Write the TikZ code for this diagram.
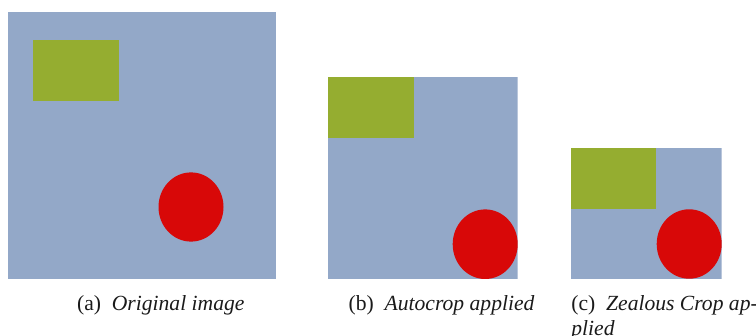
\documentclass[tikz,border=0pt]{standalone}
\usepackage{fontspec}
\setmainfont{Liberation Serif}
\usepackage{tikz}
\usetikzlibrary{positioning}
\definecolor{canvas}{HTML}{93A8C8}
\definecolor{leaf}  {HTML}{95AD30}
\definecolor{blob}  {HTML}{D80808}
\definecolor{ink}   {HTML}{1A1A1A}

\begin{document}
\begin{tikzpicture}[
    x=0.5pt, y=-0.5pt,
    %% --- semantic styles ---
    bgfill/.style    = {fill=canvas},
    rectfill/.style  = {fill=leaf},
    blobfill/.style  = {fill=blob},
    subcap/.style    = {inner sep=0pt, text=ink,
                        font=\fontsize{10.8}{12.4}\selectfont, align=left}
]
\useasboundingbox (0,0) rectangle (756,336);

%% =====================================================
%% (a) Original image
%% =====================================================
\fill[bgfill]   (8,12) rectangle (276,279);
\fill[rectfill] (33.3,40) rectangle (119.3,101);
\fill[blobfill] (191,207) ellipse [x radius=32.5, y radius=34.6];
\node[subcap, anchor=base west] (CAPA) at (76.7,311)
    {(a)\enspace\textit{Original image}};

%% =====================================================
%% (b) Autocrop applied
%% =====================================================
\begin{scope}
    \clip (327.7,76.7) rectangle (517.7,279);
    \fill[bgfill]   (327.7,76.7) rectangle (517.7,279);
    \fill[rectfill] (327.7,76.7) rectangle (413.7,138.5);
    \fill[blobfill] (485.2,244.2) ellipse [x radius=32.5, y radius=34.8];
\end{scope}
\node[subcap, anchor=base west] (CAPB) at (348.3,311)
    {(b)\enspace\textit{Autocrop applied}};

%% =====================================================
%% (c) Zealous Crop applied
%% =====================================================
\begin{scope}
    \clip (571,147.7) rectangle (721.7,278.7);
    \fill[bgfill]   (571,147.7) rectangle (721.7,278.7);
    \fill[rectfill] (571,147.7) rectangle (656.3,209.3);
    \fill[blobfill] (689.2,244) ellipse [x radius=32.5, y radius=34.7];
\end{scope}
% base of a two-line node sits on its last line
\node[subcap, anchor=base west] (CAPC) at (571,335.8)
    {(c)\enspace\textit{Zealous Crop ap-}\\\textit{plied}};

\end{tikzpicture}
\end{document}
